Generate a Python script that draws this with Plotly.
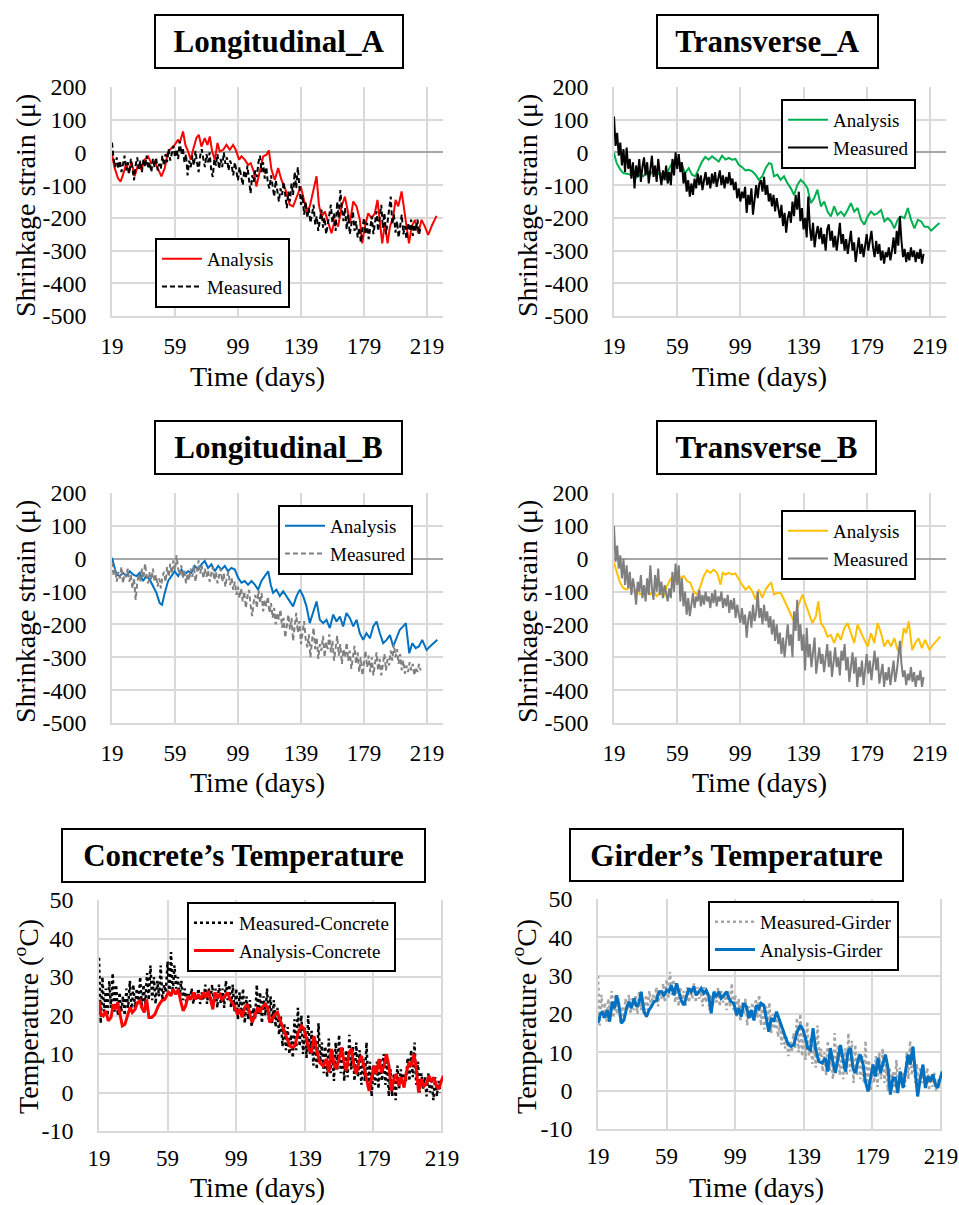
import plotly.graph_objects as go

FONT = "Liberation Serif"
W, H = 959, 1205

# ---------------- data ----------------
STRAIN_XTICKS = [19, 59, 99, 139, 179, 219]
STRAIN_YTICKS = [200, 100, 0, -100, -200, -300, -400, -500]
TEMP_YTICKS = [50, 40, 30, 20, 10, 0, -10]

MEAS_DAYS = list(range(19, 216))      # strain measurement days
TEMP_MEAS_DAYS = list(range(19, 219))  # temperature measurement days

# Longitudinal_A
LA_ANA_DAYS = [19, 20.7, 22.8, 24.5, 26, 28.1, 29.6, 31.3, 33.4, 35.5,
               37.6, 39.8, 41.9, 44, 46.1, 48.2, 50.4, 52.5, 54.6, 56.7,
               58.8, 61, 62, 64.1, 65.6, 67.3, 69, 70.5, 72.6, 74.1,
               75.8, 77.9, 79.6, 81.1, 82.6, 84.3, 86, 87.4, 89.6, 91.7,
               93.8, 95.9, 97.6, 99.7, 101.2, 103.3, 105.4, 107.1, 109, 110.7,
               112.9, 115, 117.1, 118.6, 120.3, 122.4, 124.5, 126.6, 129.2, 131.9,
               134, 136.2, 138.9, 140.4, 142.5, 144.6, 146.8, 148.9, 150.4, 152,
               154.2, 156.3, 158.4, 160.5, 162.6, 164.8, 166.9, 168.6, 170.1, 172.2,
               174.3, 176.4, 177.9, 179.6, 181.7, 183.8, 185.9, 187.6, 189.1, 190.6,
               192.3, 194, 195.5, 197.6, 199.1, 200.8, 202.9, 204.6, 206.1, 207.6,
               209.3, 211.4, 213.5, 215.6, 217.7, 219.8, 222.4, 225.1]
LA_ANA = [-7, -48, -79, -89, -68, -33, -63, -28, -73, -38,
          -53, -22, -12, -33, -28, -48, -73, -48, 3, 13,
          23, 39, 29, 64, 23, 3, -22, 8, 44, 54,
          18, 44, 23, 49, 3, -22, 29, 3, 8, 23,
          8, 23, 8, -22, -12, -22, -38, -33, -58, -104,
          -58, -12, -7, 6, -53, -84, -48, -84, -114, -160,
          -165, -140, -104, -135, -181, -165, -114, -73, -160, -196,
          -181, -216, -247, -206, -227, -165, -135, -176, -216, -150,
          -165, -206, -278, -227, -186, -201, -186, -145, -206, -278,
          -216, -278, -227, -196, -145, -165, -119, -176, -227, -278,
          -227, -206, -247, -206, -227, -252, -221, -194]
LA_MEAS = [30, -20, -45, -15, -50, -25, -60, -30, -10, -55,
           -30, -65, -20, -50, -85, -40, -15, -50, -25, -60,
           -20, -45, -10, -50, -30, -60, -20, -45, -15, -55,
           -35, -50, -10, -40, -5, -30, 10, -25, -5, 20,
           -15, 10, -20, 35, -5, 15, -30, -5, -70, -25,
           -45, -10, -40, 5, -30, -60, -10, 10, -20, -45,
           -5, -30, 0, -55, -75, -20, -40, -5, -50, -20,
           -45, 0, -35, -15, -55, -25, -40, -70, -30, -60,
           -85, -45, -70, -100, -55, -80, -40, -95, -125, -70,
           -90, -55, -75, -30, -10, -60, -30, -80, -45, -95,
           -110, -70, -100, -135, -85, -120, -150, -110, -130, -90,
           -140, -170, -120, -150, -95, -130, -60, -110, -45, -120,
           -160, -130, -190, -150, -200, -170, -215, -190, -160, -220,
           -195, -240, -210, -175, -230, -200, -250, -215, -190, -160,
           -215, -185, -240, -150, -200, -115, -175, -210, -170, -235,
           -190, -250, -220, -180, -240, -210, -260, -230, -275, -235,
           -200, -250, -215, -265, -225, -195, -250, -215, -180, -240,
           -200, -160, -230, -185, -250, -210, -170, -135, -220, -190,
           -245, -210, -260, -220, -190, -250, -225, -265, -215, -240,
           -205, -255, -220, -240, -205, -250, -230]

# Transverse_A
TA_ANA_DAYS = [19, 20.7, 22.8, 24.9, 27.1, 29.2, 31.3, 33.4, 35.5, 37.6,
               39.8, 41.9, 44, 46.1, 48.2, 50.4, 52.5, 53.5, 55.7, 57.8,
               59.9, 62, 64.1, 66.3, 68.4, 70.5, 72.6, 74.7, 76.8, 78.9,
               81.1, 83.2, 85.3, 87.4, 89.6, 91.7, 93.8, 95.9, 98, 100.1,
               102.2, 104.4, 106.5, 108.6, 110.7, 112.9, 115, 117.1, 118.6, 120.3,
               122.4, 124.5, 126.6, 128.8, 130.9, 133, 135.1, 137.2, 139.3, 141.5,
               143.6, 145.7, 147.8, 150, 152.1, 154.2, 156.3, 158.4, 160.5, 162.6,
               164.8, 166.9, 169, 171.1, 173.2, 175.4, 177.5, 179.6, 181.7, 183.8,
               185.9, 188.1, 190.2, 192.3, 194.4, 196.5, 198.6, 200.8, 202.9, 205,
               207.1, 209.2, 211.4, 213.5, 215.6, 217.7, 219.8, 222.4, 225.1]
TA_ANA = [-2, -33, -51, -63, -65, -68, -53, -76, -68, -73,
          -58, -68, -53, -68, -63, -73, -84, -53, -33, -22,
          -28, -38, -63, -48, -68, -73, -48, -28, -14, -22,
          -12, -20, -28, -10, -22, -17, -22, -20, -38, -45,
          -55, -53, -58, -68, -84, -73, -48, -33, -35, -73,
          -68, -84, -73, -94, -109, -130, -99, -84, -94, -109,
          -155, -140, -114, -165, -150, -181, -196, -165, -191, -181,
          -194, -176, -155, -181, -170, -206, -221, -196, -181, -191,
          -186, -176, -211, -201, -211, -232, -206, -196, -201, -170,
          -206, -232, -206, -211, -227, -227, -239, -227, -216]
TA_MEAS = [110, 20, 60, -10, 30, -40, 10, -60, 15, -50,
           -20, -80, -30, -110, -40, -75, -20, -90, -45, -15,
           -70, -30, -95, -50, -10, -75, -40, -90, -20, -65,
           -100, -55, -85, -40, -95, -60, -100, -20, -70, 0,
           -50, -5, -60, -30, -95, -60, -120, -85, -135, -95,
           -130, -80, -110, -65, -100, -70, -115, -85, -60, -100,
           -75, -110, -65, -95, -60, -105, -80, -55, -100, -70,
           -110, -75, -95, -60, -100, -80, -115, -90, -140, -110,
           -150, -120, -140, -105, -185, -130, -160, -110, -190, -135,
           -100, -140, -95, -85, -120, -75, -130, -100, -150, -125,
           -165, -130, -180, -140, -170, -200, -160, -225, -185, -245,
           -200, -180, -215, -150, -195, -130, -175, -120, -210, -170,
           -235, -200, -260, -135, -230, -270, -215, -290, -250, -225,
           -265, -230, -280, -250, -300, -235, -220, -270, -240, -290,
           -255, -300, -260, -215, -280, -250, -300, -265, -310, -270,
           -240, -300, -275, -335, -290, -260, -310, -280, -320, -290,
           -250, -300, -265, -240, -290, -320, -270, -310, -280, -330,
           -300, -340, -305, -320, -290, -330, -300, -260, -310, -240,
           -285, -195, -270, -320, -295, -335, -305, -330, -290, -320,
           -300, -335, -305, -325, -295, -340, -310]

# Longitudinal_B
LB_ANA_DAYS = [19, 20.3, 21.8, 23.9, 26, 28.1, 30.2, 32.3, 34.5, 36.6,
               38.7, 40.8, 42.9, 45.1, 47.2, 49.3, 50.8, 52.5, 54.6, 56.7,
               58.8, 61, 63.1, 65.2, 67.3, 69.4, 71.5, 73.7, 75.8, 77.9,
               80, 82.1, 84.3, 86.4, 88.5, 90.6, 92.7, 94.8, 97, 99.1,
               101.2, 103.3, 105.4, 107.6, 109.7, 111.8, 113.9, 116, 118.2, 119.8,
               121.3, 123.4, 125.6, 127.7, 129.8, 131.9, 134, 136.2, 138.3, 140.4,
               142.5, 144.6, 146.8, 148.9, 151, 153.1, 155.2, 157.3, 159.5, 161.6,
               163.7, 165.8, 167.9, 170.1, 172.2, 174.3, 176.4, 178.5, 180.6, 182.8,
               184.9, 187, 189.1, 191.2, 193.4, 195.5, 197.6, 199.7, 201.8, 203.9,
               205.6, 207.8, 209.7, 211.8, 213.9, 216, 218.8, 220.9, 223, 225.6]
LB_ANA = [3, -22, -48, -53, -43, -53, -38, -48, -53, -43,
          -68, -53, -63, -84, -104, -135, -140, -104, -68, -53,
          -38, -53, -33, -48, -38, -43, -22, -33, -17, -7,
          -28, -17, -38, -22, -33, -22, -38, -28, -33, -58,
          -73, -68, -79, -68, -79, -94, -68, -53, -38, -79,
          -104, -94, -114, -99, -114, -130, -145, -114, -94, -114,
          -145, -196, -160, -130, -186, -196, -186, -211, -170, -191,
          -176, -206, -165, -181, -206, -186, -227, -247, -227, -242,
          -206, -191, -227, -257, -247, -232, -267, -242, -216, -206,
          -196, -288, -257, -272, -267, -247, -278, -267, -257, -247]
LB_MEAS = [-10, -50, -30, -70, -40, -60, -25, -75, -45, -55,
           -30, -70, -50, -90, -60, -125, -75, -45, -70, -30,
           -60, -15, -55, -75, -40, -65, -30, -70, -50, -85,
           -60, -90, -55, -40, -70, -25, -55, -15, -45, -5,
           -35, 10, -30, -50, -20, -60, -35, -75, -45, -65,
           -30, -55, -20, -70, -40, -5, -45, -20, -60, -30,
           -55, -35, -70, -45, -25, -65, -40, -75, -50, -30,
           -70, -45, -85, -55, -40, -80, -60, -95, -70, -110,
           -85, -120, -90, -130, -100, -150, -115, -95, -140, -175,
           -130, -110, -150, -95, -135, -105, -160, -125, -145, -115,
           -165, -135, -180, -150, -200, -165, -185, -155, -210, -180,
           -240, -195, -170, -215, -180, -250, -200, -165, -225, -190,
           -260, -215, -190, -245, -270, -230, -300, -250, -210, -275,
           -240, -305, -260, -280, -235, -300, -255, -275, -230, -285,
           -250, -310, -265, -235, -295, -260, -320, -275, -300, -255,
           -310, -280, -335, -290, -265, -320, -285, -345, -300, -355,
           -310, -280, -330, -295, -345, -300, -355, -315, -285, -340,
           -305, -355, -320, -290, -340, -305, -325, -280, -310, -260,
           -300, -275, -320, -290, -340, -310, -350, -325, -345, -315,
           -340, -320, -355, -330, -345, -320, -340]

# Transverse_B
TB_ANA_DAYS = [19, 20.7, 22.8, 24.9, 27.1, 29.2, 31.3, 33.4, 35.5, 37.6,
               39.8, 41.9, 44, 46.1, 48.2, 50.4, 52.5, 54.6, 56.7, 58.8,
               61, 63.1, 65.2, 67.3, 69.4, 71.5, 73.7, 75.8, 77.9, 80,
               82.1, 84.3, 86.4, 87.9, 89.6, 91.7, 93.8, 95.9, 98, 100.1,
               102.3, 104.4, 106.5, 108.6, 110.7, 112.9, 115, 117.1, 118.6, 120.3,
               122.4, 124.5, 126.6, 128.7, 130.9, 133, 135.1, 138.3, 140.4, 142.5,
               144.6, 146.8, 148.3, 150, 152.1, 154.2, 156.3, 158.4, 160.5, 162.6,
               164.8, 166.9, 169, 171.1, 173.2, 175.4, 177.5, 179.6, 181.7, 183.8,
               185.9, 188.1, 190.2, 192.3, 194.4, 196.5, 198.6, 200.8, 202.5, 204,
               205.6, 207.8, 209.7, 211.8, 213.9, 216, 218.8, 220.9, 223, 225.6]
TB_ANA = [-12, -43, -73, -89, -94, -84, -99, -94, -109, -104,
          -89, -109, -99, -114, -104, -114, -84, -63, -53, -73,
          -58, -53, -68, -73, -99, -109, -84, -53, -35, -43,
          -33, -43, -79, -43, -48, -43, -48, -45, -63, -79,
          -94, -84, -99, -124, -94, -119, -94, -79, -73, -109,
          -104, -104, -124, -145, -170, -191, -150, -109, -140, -165,
          -196, -176, -130, -196, -211, -237, -232, -257, -227, -247,
          -211, -196, -227, -257, -201, -227, -247, -267, -227, -257,
          -196, -227, -267, -247, -267, -242, -278, -272, -211, -227,
          -191, -278, -257, -242, -272, -247, -278, -262, -252, -237]
TB_MEAS = [100, -10, 40, -30, 10, -60, 0, -80, -20, -90,
           -40, -110, -60, -90, -140, -70, -100, -50, -120, -80,
           -130, -60, -110, -20, -90, -125, -50, -100, -30, -110,
           -70, -120, -80, -110, -130, -90, -120, -40, -100, -15,
           -80, -20, -130, -60, -145, -100, -170, -120, -175, -140,
           -105, -150, -115, -130, -95, -145, -110, -140, -100, -130,
           -115, -150, -105, -135, -95, -145, -115, -130, -100, -150,
           -120, -145, -110, -165, -125, -155, -120, -180, -140, -170,
           -195, -150, -200, -170, -240, -185, -160, -210, -140, -190,
           -165, -100, -180, -150, -200, -140, -190, -160, -210, -175,
           -230, -185, -250, -200, -260, -225, -290, -240, -300, -250,
           -200, -265, -230, -300, -160, -220, -125, -250, -200, -280,
           -230, -340, -210, -300, -260, -330, -280, -240, -350, -300,
           -270, -320, -290, -345, -300, -260, -330, -280, -360, -310,
           -270, -330, -300, -355, -280, -310, -260, -340, -300, -375,
           -320, -285, -350, -300, -390, -330, -360, -310, -385, -340,
           -290, -350, -310, -370, -320, -280, -340, -300, -380, -350,
           -320, -390, -345, -370, -330, -385, -350, -310, -375, -345,
           -300, -250, -320, -360, -340, -385, -350, -370, -330, -375,
           -345, -390, -355, -370, -340, -390, -360]

# Concrete's temperature
CT_ANA_DAYS = [19.0, 20.2, 21.5, 22.9, 24.4, 26.0, 27.3, 28.7, 29.9, 31.2,
               32.6, 34.1, 35.7, 37.1, 38.4, 40.0, 41.5, 42.9, 43.9, 45.4,
               46.8, 48.1, 49.7, 51.6, 53.6, 55.5, 57.4, 59.4, 60.9, 62.3,
               63.7, 65.2, 66.8, 68.1, 69.5, 71.0, 72.6, 74.0, 75.3, 76.9,
               78.4, 79.8, 81.3, 82.7, 84.0, 85.4, 86.6, 88.1, 89.5, 90.8,
               92.4, 94.0, 95.3, 96.7, 98.2, 99.8, 101.1, 102.5, 104.0, 105.6,
               107.0, 108.3, 109.9, 111.4, 112.8, 114.1, 115.7, 117.3, 118.6, 120.0,
               121.5, 123.1, 124.4, 125.8, 127.3, 128.9, 130.3, 131.6, 133.2, 135.1,
               137.1, 138.6, 140.0, 141.3, 142.9, 144.4, 145.8, 147.7, 149.7, 151.6,
               153.0, 154.5, 156.1, 157.4, 159.0, 160.4, 161.9, 163.3, 164.8, 166.2,
               167.7, 169.1, 170.7, 172.0, 173.6, 174.9, 176.5, 177.8, 179.4, 180.7,
               182.3, 183.7, 185.2, 186.6, 188.1, 189.5, 191.0, 192.4, 193.8, 195.3,
               196.9, 198.2, 199.8, 201.1, 202.7, 204.0, 205.4, 207.0, 208.5, 209.9,
               211.4, 212.8, 214.3, 215.7, 217.1, 218.6, 219.8]
CT_ANA = [23.8, 20.3, 19.9, 21.2, 18.6, 19.5, 22.9, 21.6, 23.4, 19.9,
          17.3, 17.7, 20.3, 22.1, 20.8, 21.6, 23.4, 23.8, 22.1, 20.8,
          24.2, 19.5, 19.5, 20.3, 22.5, 23.8, 24.2, 26.0, 25.1, 26.8,
          25.5, 26.8, 23.4, 21.2, 22.5, 25.1, 24.2, 26.0, 24.2, 25.5,
          24.2, 26.0, 24.7, 26.4, 24.2, 21.6, 26.0, 24.7, 25.5, 24.2,
          25.1, 26.0, 24.2, 23.4, 22.1, 20.3, 21.6, 19.5, 22.1, 22.9,
          20.3, 18.2, 19.9, 22.1, 20.8, 22.1, 22.9, 22.1, 18.2, 19.0,
          20.3, 20.8, 19.0, 17.3, 15.6, 13.4, 12.1, 11.7, 12.1, 15.6,
          17.3, 16.5, 13.9, 11.3, 10.4, 14.7, 11.3, 7.8, 6.9, 8.7,
          5.2, 11.3, 7.4, 6.1, 8.7, 11.7, 7.8, 5.6, 10.4, 11.3,
          6.9, 4.8, 8.2, 9.5, 6.5, 3.5, 0.4, 3.5, 6.9, 4.8,
          8.7, 5.2, 6.9, 10.0, 6.9, 0.4, 3.5, 4.8, 1.7, 3.9,
          1.3, 5.2, 7.8, 6.9, 10.0, 6.1, 0.0, 3.5, 1.7, 2.2,
          4.3, 3.0, 3.9, 1.7, 0.9, 3.0, 4.3]
CT_MEAS = [35, 18, 30, 21, 27, 20, 29, 22, 31, 21,
           28, 20, 26, 21, 25, 20, 27, 22, 29, 21,
           28, 22, 27, 23, 30, 22, 28, 23, 31, 24,
           33, 24, 30, 23, 29, 25, 33, 24, 28, 26,
           34, 25, 36.5, 26, 33, 27, 30, 25, 29, 24,
           27, 23, 26, 24, 27, 23, 26, 24, 27, 23,
           26, 24, 28, 23, 27, 24, 28, 23, 27, 22,
           28, 23, 27, 22, 29, 24, 28, 22, 28, 21,
           27, 19, 26, 20, 27, 18, 25, 19, 24, 17,
           22, 19, 28, 20, 26, 18, 25, 20, 27, 19,
           25, 18, 24, 17, 22, 15, 20, 12, 18, 11,
           17, 10, 15, 9, 19, 11, 22, 12, 20, 10,
           17, 9, 20, 10, 16, 7, 14, 6, 18, 8,
           13, 5, 12, 4, 14, 5, 11, 3, 13, 6,
           15, 5, 12, 3, 11, 4, 15, 6, 12, 3,
           13, 4, 11, 2, 9, 3, 13, 1, 8, -1,
           7, 2, 8, 1, 9, 3, 10, 2, 8, -1,
           6, -1, 5, -2, 7, 1, 6, 2, 5, 3,
           9, 3, 11, 4, 13, 2, 8, 0, 5, 1,
           4, -1, 5, 0, 3, -2, 4, -1, 3, 0]

# Girder's temperature
GT_ANA_DAYS = [19.0, 20.2, 21.5, 22.9, 24.4, 25.8, 27.3, 28.7, 29.9, 31.2,
               32.6, 34.1, 35.7, 37.1, 38.4, 40.0, 41.5, 42.9, 44.2, 45.8,
               47.3, 48.7, 50.1, 51.6, 53.2, 54.5, 56.1, 57.4, 59.0, 60.4,
               61.7, 63.3, 64.8, 66.2, 67.5, 69.1, 70.7, 72.0, 73.4, 74.9,
               76.3, 77.8, 79.2, 80.7, 82.1, 83.7, 85.0, 86.6, 87.9, 89.5,
               90.8, 92.4, 94.0, 95.3, 96.7, 98.2, 99.8, 101.1, 102.5, 104.0,
               105.6, 107.0, 108.3, 109.9, 111.4, 112.8, 114.1, 115.7, 117.3, 118.6,
               120.0, 121.5, 123.1, 124.4, 125.8, 127.3, 128.9, 130.3, 131.6, 133.2,
               135.1, 137.1, 138.6, 140.0, 141.3, 142.9, 144.4, 145.8, 147.7, 149.7,
               151.6, 153.0, 154.5, 156.1, 157.4, 159.0, 160.4, 161.9, 163.3, 164.8,
               166.2, 167.7, 169.1, 170.7, 172.0, 173.6, 174.9, 176.5, 177.8, 179.4,
               180.7, 182.3, 183.7, 185.2, 186.6, 188.1, 189.5, 191.0, 192.4, 193.8,
               195.3, 196.9, 198.2, 199.8, 201.1, 202.7, 204.0, 205.4, 207.0, 208.5,
               209.9, 211.4, 212.8, 214.3, 215.7, 217.1, 218.6, 219.8]
GT_ANA = [17.6, 19.7, 20.6, 19.0, 21.0, 18.0, 23.2, 21.5, 24.9, 22.3,
          17.6, 18.4, 21.5, 23.2, 21.5, 24.1, 21.9, 22.8, 25.8, 20.6,
          19.3, 21.0, 21.9, 23.2, 23.6, 25.8, 25.8, 24.9, 26.2, 25.8,
          27.5, 24.9, 28.0, 25.4, 23.6, 22.3, 24.9, 26.7, 25.8, 27.1,
          24.9, 25.8, 26.7, 25.4, 26.2, 24.5, 20.2, 25.8, 24.5, 25.8,
          24.1, 24.9, 25.8, 24.1, 23.2, 22.8, 19.7, 21.5, 19.3, 22.8,
          21.9, 18.9, 21.0, 18.4, 22.3, 21.5, 22.8, 22.3, 18.0, 15.4,
          18.9, 18.0, 20.6, 18.9, 17.1, 15.4, 13.2, 11.9, 11.5, 11.9,
          15.4, 17.1, 15.8, 13.7, 11.1, 10.6, 16.3, 11.1, 7.6, 7.2,
          8.5, 5.0, 11.1, 7.2, 4.6, 8.5, 11.9, 8.1, 5.0, 10.2,
          11.1, 5.9, 4.6, 8.1, 9.4, 6.8, 2.4, -0.2, 3.3, 6.8,
          3.7, 8.5, 4.6, 6.8, 9.4, 5.9, -1.0, 3.3, 3.3, -0.6,
          5.0, 0.7, 4.6, 9.4, 6.8, 11.5, 5.0, -1.5, 3.3, 6.8,
          0.7, 3.7, 2.4, 4.2, 1.6, 0.7, 3.3, 5.0]
GT_MEAS = [30, 17, 25, 19, 23, 18, 24, 20, 26, 19,
           25, 20, 24, 18, 22, 19, 24, 21, 25, 20,
           24, 21, 25, 20, 26, 21, 24, 20, 25, 21,
           26, 22, 25, 23, 27, 22, 26, 24, 28, 23,
           29, 24, 31, 25, 29, 23, 28, 22, 27, 23,
           26, 22, 27, 23, 26, 24, 28, 23, 27, 24,
           26, 22, 27, 23, 26, 21, 25, 22, 26, 23,
           27, 22, 26, 23, 25, 21, 26, 22, 28, 21,
           25, 19, 24, 18, 23, 20, 24, 17, 22, 19,
           23, 18, 24, 19, 25, 17, 23, 16, 22, 18,
           23, 15, 20, 16, 19, 14, 18, 12, 16, 11,
           14, 9, 13, 10, 15, 11, 19, 10, 20, 9,
           16, 8, 18, 9, 14, 7, 12, 6, 17, 8,
           11, 5, 10, 4, 13, 5, 10, 3, 15, 6,
           12, 4, 10, 3, 11, 4, 15, 5, 13, 2,
           12, 4, 10, 3, 9, 2, 13, 1, 8, 0,
           7, 2, 9, 1, 10, 3, 11, 2, 7, 0,
           6, 0, 5, -1, 8, 1, 6, 2, 5, 1,
           10, 3, 13, 4, 9, 2, 7, 1, 6, 2,
           5, 1, 6, 0, 4, 1, 5, 0, 3, 1]

# ---------------- layout helpers (pixel -> paper) ----------------
def px(x):
    return x / W


def py(y):
    return 1 - y / H


GRID = "#d9d9d9"
STRAIN_TITLE = "Shrinkage strain (μ)"
TEMP_TITLE = "Temperature (<sup>o</sup>C)"
TIME_TITLE = "Time (days)"

panels = [
    dict(title="Longitudinal_A", box=(155, 15, 403, 68), plot=(112, 87, 443, 316),
         kind="strain", ytitle=(25, 206), xtitle=(257, 376), legend=(155, 238),
         traces=[("Analysis", LA_ANA_DAYS, LA_ANA, "#FF0000", 2, "solid"),
                 ("Measured", MEAS_DAYS, LA_MEAS, "#000000", 2, "5px,3px")]),
    dict(title="Transverse_A", box=(657, 15, 878, 68), plot=(614, 87, 946, 316),
         kind="strain", ytitle=(527, 206), xtitle=(759, 376), legend=(781, 99),
         traces=[("Analysis", TA_ANA_DAYS, TA_ANA, "#00B050", 2, "solid"),
                 ("Measured", MEAS_DAYS, TA_MEAS, "#000000", 2, "solid")]),
    dict(title="Longitudinal_B", box=(155, 421, 402, 474), plot=(112, 493, 443, 723),
         kind="strain", ytitle=(25, 612), xtitle=(257, 782), legend=(278, 505),
         traces=[("Analysis", LB_ANA_DAYS, LB_ANA, "#0070C0", 2, "solid"),
                 ("Measured", MEAS_DAYS, LB_MEAS, "#808080", 2, "5px,3px")]),
    dict(title="Transverse_B", box=(657, 421, 876, 474), plot=(614, 493, 946, 723),
         kind="strain", ytitle=(527, 612), xtitle=(759, 782), legend=(781, 510),
         traces=[("Analysis", TB_ANA_DAYS, TB_ANA, "#FFC000", 2, "solid"),
                 ("Measured", MEAS_DAYS, TB_MEAS, "#7F7F7F", 2, "solid")]),
    dict(title="Concrete\u2019s Temperature", box=(62, 829, 425, 882), plot=(99, 900, 443, 1131),
         kind="temp", ytitle=(26, 1017), xtitle=(257, 1187), legend=(187, 902),
         traces=[("Measured-Concrete", TEMP_MEAS_DAYS, CT_MEAS, "#000000", 2.5, "dot"),
                 ("Analysis-Concrete", CT_ANA_DAYS, CT_ANA, "#FF0000", 3, "solid")]),
    dict(title="Girder\u2019s Temperature", box=(570, 829, 903, 881), plot=(598, 899, 942, 1129),
         kind="temp", ytitle=(524, 1017), xtitle=(756, 1187), legend=(708, 901),
         traces=[("Measured-Girder", TEMP_MEAS_DAYS, GT_MEAS, "#A6A6A6", 2.5, "dot"),
                 ("Analysis-Girder", GT_ANA_DAYS, GT_ANA, "#0070C0", 3, "solid")]),
]

fig = go.Figure()
annotations = []
layout = dict(template="none", width=W, height=H, margin=dict(l=0, r=0, t=0, b=0, pad=0),
              autosize=False, paper_bgcolor="white", plot_bgcolor="white",
              font=dict(family=FONT, color="black"))

for i, p in enumerate(panels, start=1):
    sfx = "" if i == 1 else str(i)
    lname = "legend" if i == 1 else f"legend{i}"
    x0, y0, x1, y1 = p["plot"]
    for name, xs, ys, color, width, dash in p["traces"]:
        fig.add_trace(go.Scatter(x=xs, y=ys, mode="lines", name=name,
                                 line=dict(color=color, width=width, dash=dash),
                                 xaxis=f"x{sfx}", yaxis=f"y{sfx}", legend=lname,
                                 showlegend=True))
    if p["kind"] == "strain":
        xr = [19, 229.2]
        yvals = STRAIN_YTICKS
        yr = [-500, 200]
        ytitle = STRAIN_TITLE
        zeroline = True
        xstand = 9
    else:
        xr = [19, 219.6]
        yvals = TEMP_YTICKS
        yr = [-10, 50]
        ytitle = TEMP_TITLE
        zeroline = False
        xstand = 6
    xtick_vals = STRAIN_XTICKS
    layout[f"xaxis{sfx}"] = dict(
        domain=[px(x0), px(x1)], anchor=f"y{sfx}", range=xr, automargin=False,
        tickmode="array", tickvals=xtick_vals, ticktext=[str(v) for v in xtick_vals],
        showgrid=True, gridcolor=GRID, gridwidth=1.5, zeroline=False,
        showline=True, linecolor=GRID, linewidth=1.5, ticks="",
        tickfont=dict(family=FONT, size=23, color="black"), ticklabelstandoff=xstand)
    layout[f"yaxis{sfx}"] = dict(
        domain=[py(y1), py(y0)], anchor=f"x{sfx}", range=yr, automargin=False,
        tickmode="array", tickvals=yvals, ticktext=[str(v) for v in yvals],
        showgrid=True, gridcolor=GRID, gridwidth=1.5,
        zeroline=zeroline, zerolinecolor="#A6A6A6", zerolinewidth=1.5,
        showline=True, linecolor=GRID, linewidth=1.5, ticks="",
        tickfont=dict(family=FONT, size=24, color="black"), ticklabelstandoff=19)
    lx, ly = p["legend"]
    layout[lname] = dict(x=px(lx), y=py(ly), xanchor="left", yanchor="top",
                         xref="paper", yref="paper",
                         bordercolor="black", borderwidth=2, bgcolor="white",
                         font=dict(family=FONT, size=19, color="black"),
                         tracegroupgap=0, itemwidth=40)
    bx0, by0, bx1, by1 = p["box"]
    annotations.append(dict(
        text=f"<b>{p['title']}</b>", xref="paper", yref="paper",
        x=px((bx0 + bx1) / 2), y=py((by0 + by1) / 2), xanchor="center", yanchor="middle",
        showarrow=False, font=dict(family=FONT, size=31, color="black"),
        bordercolor="black", borderwidth=2, borderpad=0, bgcolor="white",
        width=bx1 - bx0 - 2, height=by1 - by0 - 2))
    tx, ty = p["ytitle"]
    annotations.append(dict(
        text=ytitle, xref="paper", yref="paper", x=px(tx), y=py(ty),
        xanchor="center", yanchor="middle", showarrow=False, textangle=-90,
        font=dict(family=FONT, size=28, color="black")))
    tx, ty = p["xtitle"]
    annotations.append(dict(
        text=TIME_TITLE, xref="paper", yref="paper", x=px(tx), y=py(ty),
        xanchor="center", yanchor="middle", showarrow=False,
        font=dict(family=FONT, size=28, color="black")))

layout["annotations"] = annotations
fig.update_layout(**layout)
fig.write_html("out.html")
